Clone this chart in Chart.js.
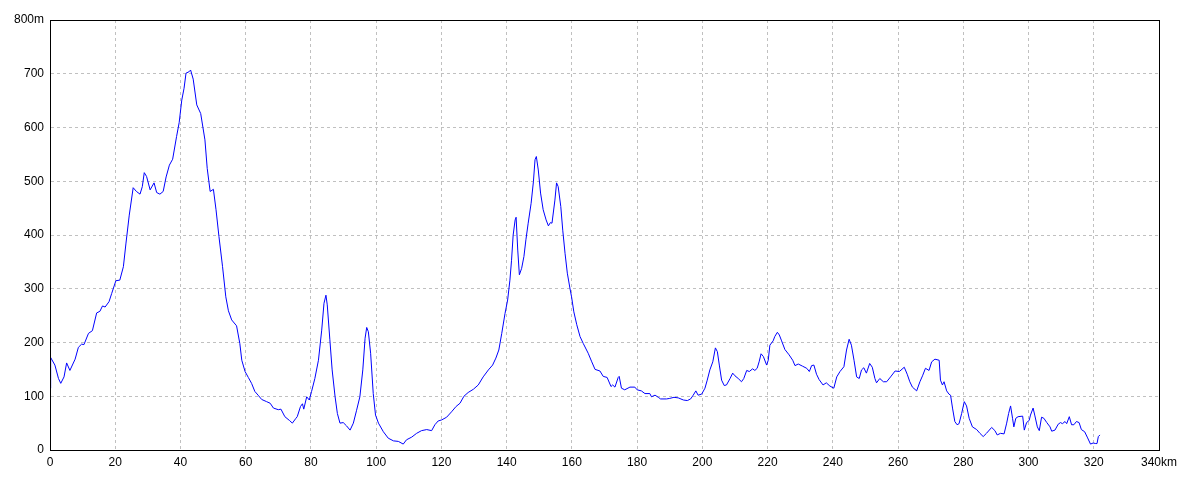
<!DOCTYPE html>
<html>
<head>
<meta charset="utf-8">
<script src="https://cdn.jsdelivr.net/npm/chart.js@4/dist/chart.umd.min.js"></script>
<style>
    html, body { margin: 0; padding: 0; background: #fff; }
    #wrap { width: 1200px; height: 480px; }
</style>
</head>
<body>
<div id="wrap"><canvas id="myChart" width="1200" height="480"></canvas></div>
<script>
// distance along the route (km)
var distKm = [
    0, 0.2, 1.5, 2.6, 3.3, 4.3, 5.1, 6.1, 7.7, 8.7, 9.7, 10.4, 11.8, 13, 14.3, 15.3, 16.1, 16.9, 18.1, 18.9,
    20.2, 21.4, 22.5, 23.3, 24.3, 25.5, 26.5, 27.6, 28.3, 28.9, 29.6, 30.7, 31.9, 32.7, 33.7, 34.7, 35.6, 36.6, 37.6, 38.8,
    39.6, 40.4, 41.1, 41.7, 42.7, 43.1, 43.9, 45, 46.2, 47.5, 48.2, 49.1, 50.1, 50.9, 51.8, 52.9, 53.9, 54.7, 55.7, 57.2,
    58.2, 58.8, 59.8, 60.8, 61.8, 62.8, 63.8, 64.9, 66.4, 67.5, 68.5, 70, 70.8, 72, 73.4, 74.3, 75.4, 75.8, 76.8, 77.4,
    77.8, 78.7, 79.5, 80.2, 81.2, 82.3, 83.3, 84, 84.6, 85, 85.8, 86.5, 87.4, 88.1, 88.9, 89.9, 90.9, 92, 93, 94,
    95, 95.9, 96.6, 97.1, 97.6, 98.3, 99.1, 99.8, 100.7, 102.2, 103.7, 105.3, 106.8, 108.3, 109.3, 110.9, 112.4, 113.9, 115.5, 117,
    118, 119, 120.1, 121.6, 123.1, 124.5, 125.7, 126.9, 128.2, 129.8, 131.3, 132.8, 134.4, 135.7, 136.7, 137.6, 138.5, 139.5, 140.3, 141,
    141.5, 142, 142.6, 142.9, 143.4, 143.9, 144.6, 145.3, 145.9, 146.6, 147.5, 148.2, 148.7, 149.1, 149.7, 150.4, 151.2, 152.1, 152.8, 153.4,
    153.9, 154.8, 155.3, 155.8, 156.6, 157.2, 157.9, 158.6, 159.4, 159.9, 160.6, 161.5, 162.5, 163.5, 165, 166.1, 167.1, 168.6, 169.6, 170.8,
    172, 172.5, 173.2, 174.2, 174.5, 175.2, 176.2, 177.8, 179.3, 180, 181.3, 182.4, 183.9, 184.4, 185.5, 186.5, 187.2, 189, 190, 191.3,
    192.6, 194.2, 195.4, 196.4, 197.2, 198, 198.7, 199.8, 200.8, 201.5, 202.3, 203.2, 204, 204.6, 205.2, 205.9, 206.7, 207.4, 208.5, 209.3,
    210, 211, 212, 212.7, 213.6, 214.4, 215.4, 216.1, 216.8, 217.4, 218, 218.7, 219.7, 220.2, 220.7, 221.7, 222.2, 223, 223.6, 224.3,
    225.3, 226.6, 227.7, 228.4, 229.4, 230.7, 232, 232.8, 233.5, 234.2, 235, 235.8, 237, 238, 239.1, 240.3, 241.2, 242.2, 243.4, 244.2,
    245, 245.7, 246.5, 247.3, 248.1, 248.8, 249.5, 250.3, 251.3, 252.1, 252.9, 253.4, 254.4, 255.5, 256.5, 257.7, 259.1, 260.4, 261.9, 262.8,
    263.6, 264.4, 265.7, 266.7, 267.5, 268.4, 269.5, 270.3, 271.3, 272.6, 273, 273.6, 274.1, 274.9, 275.6, 276.1, 276.7, 277.4, 278.1, 278.7,
    279.5, 280.3, 281, 281.8, 282.8, 284.1, 285.1, 286.1, 287.1, 288.7, 289.7, 290.4, 291.4, 292.5, 293.3, 293.9, 294.5, 295.1, 295.5, 296.1,
    296.8, 298.2, 298.7, 299.4, 300.2, 300.6, 301.4, 301.9, 302.7, 303.3, 304, 304.7, 305.6, 306.6, 307.1, 308.1, 309.1, 309.8, 310.4, 311.2,
    311.7, 312.5, 313.2, 313.9, 314.7, 315.5, 316.2, 317.2, 318, 319, 319.8, 320.6, 321, 321.4, 321.9
];

// elevation (m)
var elevM = [
    115, 172, 158, 133, 124, 136, 162, 148, 169, 191, 197, 196, 217, 222, 255, 258, 268, 266, 276, 291,
    315, 316, 341, 385, 437, 488, 481, 476, 490, 516, 509, 484, 497, 479, 476, 481, 508, 530, 541, 583,
    609, 651, 673, 701, 704, 707, 690, 642, 626, 577, 524, 481, 485, 447, 397, 341, 285, 259, 242, 231,
    198, 167, 146, 135, 124, 109, 102, 94, 90, 87, 78, 75, 76, 62, 55, 50, 59, 62, 81, 86,
    76, 99, 93, 109, 133, 167, 223, 273, 288, 270, 205, 149, 99, 68, 50, 51, 45, 37, 50, 74,
    99, 149, 208, 228, 220, 180, 105, 65, 50, 34, 22, 17, 16, 11, 19, 24, 31, 36, 38, 36,
    47, 54, 56, 61, 71, 81, 87, 100, 107, 113, 121, 136, 149, 158, 171, 186, 217, 254, 279, 316,
    353, 400, 428, 433, 372, 326, 338, 360, 391, 422, 459, 499, 540, 546, 521, 478, 447, 428, 417, 423,
    422, 465, 497, 490, 453, 409, 366, 329, 301, 285, 257, 233, 211, 198, 180, 164, 150, 147, 137, 135,
    118, 121, 117, 135, 137, 115, 112, 117, 117, 112, 110, 105, 105, 99, 102, 98, 95, 95, 96, 98,
    97, 93, 92, 95, 102, 110, 102, 104, 115, 130, 149, 164, 190, 183, 158, 130, 120, 121, 133, 143,
    138, 133, 127, 133, 148, 146, 151, 148, 152, 164, 179, 174, 158, 167, 195, 203, 211, 219, 214, 203,
    187, 177, 167, 157, 160, 156, 152, 146, 157, 158, 141, 131, 121, 125, 119, 115, 136, 146, 155, 186,
    206, 195, 167, 136, 133, 149, 153, 143, 161, 154, 133, 125, 133, 127, 127, 136, 147, 146, 154, 141,
    127, 117, 110, 127, 138, 152, 148, 164, 169, 167, 130, 121, 127, 110, 104, 102, 78, 53, 47, 49,
    68, 90, 82, 59, 43, 38, 31, 25, 31, 42, 36, 28, 31, 30, 50, 68, 82, 59, 43, 59,
    62, 63, 37, 51, 55, 65, 78, 65, 43, 36, 61, 59, 51, 43, 35, 37, 48, 51, 49, 53,
    49, 62, 47, 47, 53, 51, 38, 34, 24, 11, 13, 12, 12, 25, 28
];

// axis tick labels
var xTickLabels = ['0', '20', '40', '60', '80', '100', '120', '140', '160', '180', '200',
    '220', '240', '260', '280', '300', '320', '340km'];
var yTickLabels = ['0', '100', '200', '300', '400', '500', '600', '700', '800m'];

var points = [];
for (var i = 0; i < distKm.length; i++) {
    points.push({x: distKm[i], y: elevM[i]});
}

// black frame round the plot area (top and right sides too)
var framePlugin = {
    id: 'frame',
    afterDraw: function (chart) {
        var a = chart.chartArea;
        var c = chart.ctx;
        c.save();
        c.strokeStyle = '#000';
        c.lineWidth = 1;
        c.strokeRect(Math.round(a.left) + 0.5, Math.round(a.top) + 0.5,
            Math.round(a.right - a.left), Math.round(a.bottom - a.top));
        c.restore();
    }
};

Chart.defaults.font.family = '"Liberation Sans", Arial, sans-serif';
Chart.defaults.font.size = 12;
Chart.defaults.color = '#000';

var ctx = document.getElementById("myChart").getContext('2d');
var myChart = new Chart(ctx, {
    type: 'line',
    data: {
        datasets: [{
            data: points,
            borderColor: '#0000ff',
            borderWidth: 1,
            pointRadius: 0,
            fill: false,
            tension: 0
        }]
    },
    options: {
        responsive: false,
        animation: false,
        layout: {padding: {left: 0, top: 20, right: 41, bottom: 0}},
        plugins: {
            legend: {display: false},
            tooltip: {enabled: false}
        },
        scales: {
            x: {
                type: 'linear',
                min: 0,
                max: 340,
                ticks: {
                    stepSize: 20,
                    padding: 5,
                    maxRotation: 0,
                    callback: function (v) { return xTickLabels[Math.round(v / 20)]; }
                },
                grid: {color: '#c0c0c0', drawTicks: false},
                border: {color: '#000', dash: [3, 3], display: true},
                afterFit: function (scale) { scale.height = 30; }
            },
            y: {
                min: 0,
                max: 800,
                ticks: {
                    stepSize: 100,
                    padding: 6,
                    callback: function (v) { return yTickLabels[Math.round(v / 100)]; }
                },
                grid: {color: '#c0c0c0', drawTicks: false},
                border: {color: '#000', dash: [3, 3], display: true},
                afterFit: function (scale) { scale.width = 50; }
            }
        }
    },
    plugins: [framePlugin]
});
</script>
</body>
</html>
